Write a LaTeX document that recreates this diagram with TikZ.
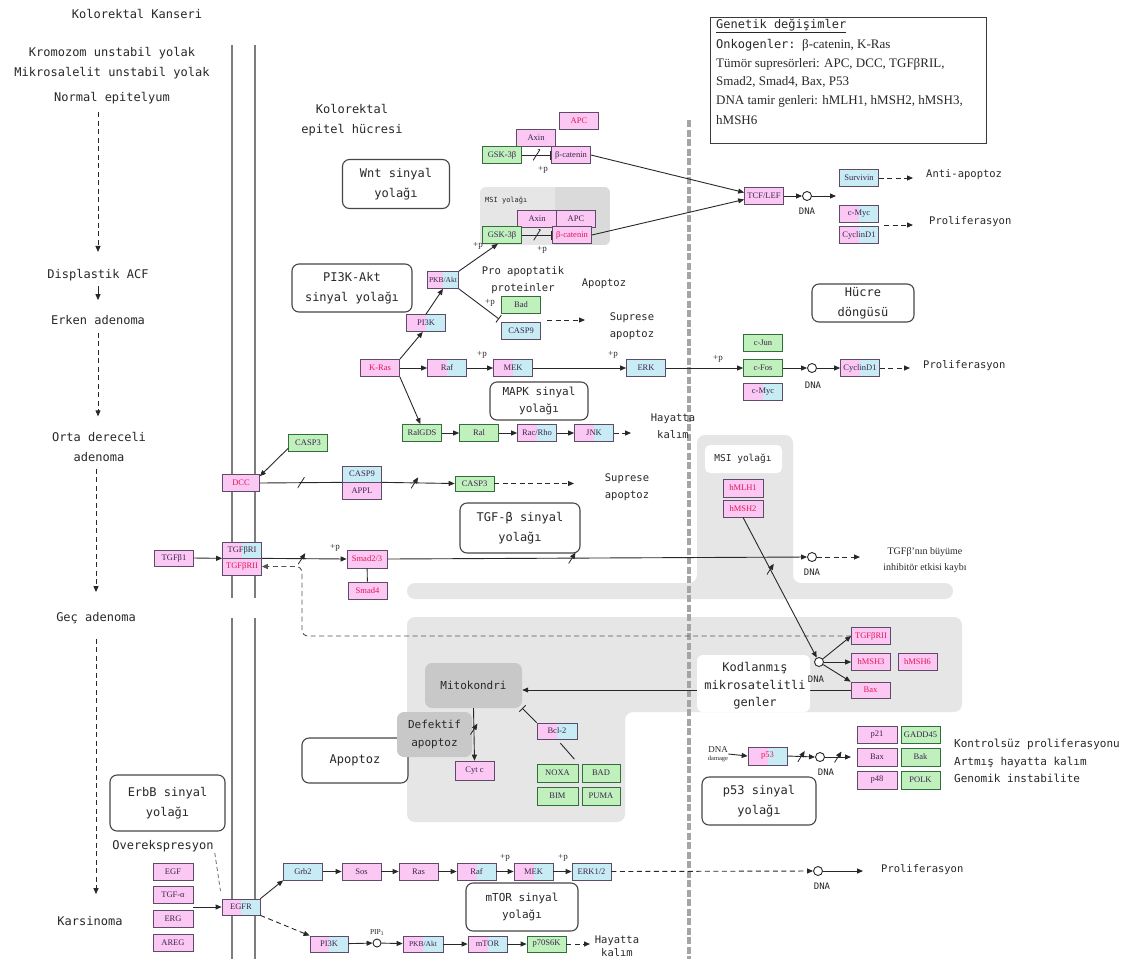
\documentclass[tikz,border=0pt]{standalone}
\usepackage{fontspec}
\setmainfont{Liberation Serif}
\newfontfamily\monolab{DejaVu Sans Mono}
\usetikzlibrary{arrows.meta}

\definecolor{edgec}{RGB}{40,40,40}
\definecolor{pathline}{RGB}{70,70,70}
\definecolor{labtext}{RGB}{40,40,40}
\definecolor{genetext}{RGB}{60,35,80}
\definecolor{mutred}{RGB}{230,20,90}
\definecolor{pinkc}{RGB}{250,200,242}
\definecolor{bluec}{RGB}{200,236,244}
\definecolor{greenc}{RGB}{192,240,188}
\definecolor{geneline}{RGB}{95,75,105}
\definecolor{greenline}{RGB}{50,110,60}
\definecolor{regc}{RGB}{230,230,230}
\definecolor{regd}{RGB}{218,218,218}
\definecolor{mitoc}{RGB}{200,200,200}
\definecolor{membc}{RGB}{125,125,125}
\definecolor{vdashc}{RGB}{165,165,165}
\definecolor{boxc}{RGB}{60,60,60}

\newcommand{\labbig}{\monolab\fontsize{12}{19.5}\selectfont}
\newcommand{\labmid}{\monolab\fontsize{11}{17.5}\selectfont}
\newcommand{\labsmall}{\monolab\fontsize{10.5}{17}\selectfont}
\newcommand{\labtiny}{\monolab\fontsize{9}{11}\selectfont}
\newcommand{\genefont}{\rmfamily\fontsize{8.5}{10}\selectfont}
\newcommand{\plusfont}{\rmfamily\fontsize{9}{10}\selectfont}
\newcommand{\legfont}{\rmfamily\fontsize{13}{15}\selectfont}

\tikzset{
  gene/.style={draw=geneline, line width=0.7pt, minimum width=39pt, minimum height=17pt, inner sep=0pt, font=\genefont, text=genetext},
  pk/.style={gene, fill=pinkc},
  bl/.style={gene, fill=bluec},
  gr/.style={gene, fill=greenc, draw=greenline},
  pb/.style={gene, fill=pinkc, path picture={\fill[bluec] ([yshift=-0.4pt]path picture bounding box.north) rectangle ([xshift=-0.4pt,yshift=0.4pt]path picture bounding box.south east);}},
  mut/.style={text=mutred},
  sq/.style={font=\rmfamily\fontsize{7.5}{9}\selectfont},
  pway/.style={draw=pathline, line width=1.1pt, rounded corners=7pt, fill=white, font=\labbig, text=labtext, align=center, inner sep=0pt},
  lab/.style={font=\labbig, text=labtext, align=center, inner sep=1pt},
  labm/.style={font=\labmid, text=labtext, align=center, inner sep=1pt},
  labs/.style={font=\labsmall, text=labtext, align=center, inner sep=1pt},
  dnal/.style={font=\labtiny, text=labtext, inner sep=0pt},
  plab/.style={font=\plusfont, text=labtext, inner sep=0pt},
  arr/.style={draw=edgec, line width=0.9pt, -{Triangle[length=6pt,width=5pt]}},
  darr/.style={arr, dash pattern=on 5pt off 3.5pt},
  inh/.style={draw=edgec, line width=0.9pt, -{Bar[width=9pt,line width=0.9pt]}},
  ln/.style={draw=edgec, line width=0.9pt},
  dnac/.style={circle, draw=edgec, fill=white, line width=0.9pt, minimum size=9pt, inner sep=0pt},
  slash/.style={inner sep=0pt, minimum width=7pt, minimum height=11pt, path picture={\draw[edgec, line width=0.8pt] (path picture bounding box.south west) -- (path picture bounding box.north east);}},
  memb/.style={draw=membc, line width=2.8pt},
  vdash/.style={draw=vdashc, line width=3.5pt, dash pattern=on 7pt off 2.5pt},
  organelle/.style={rounded corners=7pt, fill=mitoc, font=\labmid, text=labtext, align=center, inner sep=0pt},
}

\begin{document}
\begin{tikzpicture}[x=1pt,y=-1pt]
\useasboundingbox (0,0) rectangle (1145,959);
\fill[white] (0,0) rectangle (1145,959);

% ---------- shaded compartments ----------
\begin{scope}
  \clip[rounded corners=6pt] (480,187) rectangle (610,245);
  \fill[regc] (480,187) rectangle (610,245);
  \fill[regd] (555,187) rectangle (610,245);
\end{scope}
\fill[regc, rounded corners=8pt] (697,435) -- (793,435) -- (793,583) -- (953,583) -- (953,599) -- (407,599) -- (407,583) -- (697,583) -- cycle;
\fill[regc, rounded corners=8pt] (407,617) -- (962,617) -- (962,712) -- (625,712) -- (625,822) -- (407,822) -- cycle;
\fill[white, rounded corners=5pt] (705,445) rectangle (782,473);

% ---------- cell membrane and boundary ----------
\draw[memb] (232,45) -- (232,598);
\draw[memb] (255,45) -- (255,598);
\draw[memb] (232,618) -- (232,959);
\draw[memb] (255,618) -- (255,959);
\draw[vdash] (689,120) -- (689,959);

% ---------- progression column ----------
\node[lab] (kk) at (137,14) {Kolorektal Kanseri};
\node[lab] (kuy) at (112,53) {Kromozom unstabil yolak};
\node[lab] (muy) at (112,73) {Mikrosalelit unstabil yolak};
\node[lab] (ne) at (112,98) {Normal epitelyum};
\node[lab] (dacf) at (98,275) {Displastik ACF};
\node[lab] (ea) at (98,320) {Erken adenoma};
\node[lab] (oda) at (99,447) {Orta dereceli\\adenoma};
\node[lab] (ga) at (96,618) {Geç adenoma};
\node[lab] (ks) at (90,921) {Karsinoma};
\draw[darr, shorten <=7pt, shorten >=16pt] (dacf.north |- ne.south) -- (dacf.north);
\draw[arr, shorten <=4pt, shorten >=14pt] (dacf.south) -- (dacf.south |- ea.north);
\draw[darr, shorten <=7pt, shorten >=15pt] (ea.south) -- (ea.south |- oda.north);
\draw[darr, shorten <=6pt, shorten >=19pt] (oda.south -| ga.north) -- (ga.north);
\draw[darr, shorten <=14pt, shorten >=21pt] (ga.south) -- (ga.south |- ks.north);

\node[lab] (epi) at (352,120) {Kolorektal\\epitel hücresi};

% ---------- legend box ----------
\node[draw=boxc, line width=1pt, minimum width=276pt, minimum height=126pt, anchor=north west, inner sep=0pt] (gbox) at (710,17) {};
\node[anchor=west, inner sep=0pt, font=\monolab\fontsize{12}{14}\selectfont, text=labtext] (g1) at (716,26) {\underline{Genetik değişimler}};
\node[anchor=west, inner sep=0pt, font=\legfont, text=labtext] (g2) at (716,45) {{\monolab\fontsize{12}{14}\selectfont Onkogenler:}\ \ β-catenin, K-Ras};
\node[anchor=west, inner sep=0pt, font=\legfont, text=labtext] (g3) at (716,64) {Tümör supresörleri: APC, DCC, TGFβRIL,};
\node[anchor=west, inner sep=0pt, font=\legfont, text=labtext] (g4) at (716,82) {Smad2, Smad4, Bax, P53};
\node[anchor=west, inner sep=0pt, font=\legfont, text=labtext] (g5) at (716,101) {DNA tamir genleri: hMLH1, hMSH2, hMSH3,};
\node[anchor=west, inner sep=0pt, font=\legfont, text=labtext] (g6) at (716,120) {hMSH6};

% ---------- pathway boxes ----------
\node[pway, minimum width=107pt, minimum height=49pt] (wntbox) at (396,184) {Wnt sinyal\\yolağı};
\node[pway, minimum width=120pt, minimum height=48pt] (pi3kbox) at (352,288) {PI3K-Akt\\sinyal yolağı};
\node[pway, minimum width=98pt, minimum height=38pt, font=\labmid] (mapkbox) at (539,401) {MAPK sinyal\\yolağı};
\node[pway, minimum width=102pt, minimum height=38pt] (cycbox) at (863,303) {Hücre\\döngüsü};
\node[pway, minimum width=120pt, minimum height=50pt] (tgfbox) at (520,528) {TGF-β sinyal\\yolağı};
\node[pway, minimum width=106pt, minimum height=45pt] (apobox) at (355,760.5) {Apoptoz};
\node[pway, minimum width=114pt, minimum height=48pt] (p53box) at (759,801) {p53 sinyal\\yolağı};
\node[pway, minimum width=115pt, minimum height=56pt] (erbbbox) at (167.5,803) {ErbB sinyal\\yolağı};
\node[pway, minimum width=112pt, minimum height=48pt, font=\labmid] (mtorbox) at (522,907) {mTOR sinyal\\yolağı};

% ---------- Wnt ----------
\node[font=\monolab\fontsize{7}{8}\selectfont, text=labtext, anchor=west, inner sep=0pt] (msiA) at (485,200) {MSI yolağı};
\node[pk,mut] (apcA) at (579,121) {APC};
\node[pk] (axinA) at (536,138) {Axin};
\node[gr] (gskA) at (502,155) {GSK-3β};
\node[pk] (bcatA) at (571,155) {β-catenin};
\node[pk] (axinB) at (537,219) {Axin};
\node[pk] (apcB) at (576,219) {APC};
\node[gr] (gskB) at (502,235) {GSK-3β};
\node[pk,mut] (bcatB) at (572,235) {β-catenin};
\node[pk] (tcf) at (764,196) {TCF/LEF};
\node[dnac] (dnaA) at (807,196) {};
\node[dnal] (dnaAl) at (807,211) {DNA};
\node[bl] (surv) at (859,178) {Survivin};
\node[pb] (cmycA) at (859,214) {c-Myc};
\node[pb] (ccndA) at (859,235) {CyclinD1};
\node[labs, anchor=west] (antiap) at (925,175) {Anti-apoptoz};
\node[labs, anchor=west] (prolA) at (928,222) {Proliferasyon};
\coordinate (wntT) at (836,196);
\coordinate (wntG) at (884,225);

\draw[inh] (gskA.east) -- node[slash]{} (bcatA.west);
\node[plab] (pA) at (543,170) {+p};
\draw[inh] (gskB.east) -- node[slash]{} (bcatB.west);
\node[plab] (pB) at (542,250) {+p};
\draw[arr] (bcatA.east) -- (tcf.170);
\draw[arr] (bcatB.east) -- (tcf.190);
\draw[arr] (tcf) -- (dnaA);
\draw[arr] (dnaA) -- (wntT);
\draw[darr, shorten >=12pt] (surv.east) -- (surv.east -| antiap.west);
\draw[darr, shorten >=15pt] (wntG) -- (wntG -| prolA.west);

% ---------- PI3K-Akt ----------
\node[pb,sq, minimum width=31pt] (pkbA) at (443,280) {PKB/Akt};
\node[pb] (pi3kA) at (426,323) {PI3K};
\node[gr] (bad) at (521,305) {Bad};
\node[bl] (casp9A) at (521,331) {CASP9};
\node[labs] (proap) at (523,280) {Pro apoptatik\\proteinler};
\node[labs] (apA) at (604,284) {Apoptoz};
\node[labs] (supA) at (632,326) {Suprese\\apoptoz};
\coordinate (badinh) at (499,319);
\coordinate (apgrp) at (547,320);
\coordinate (apT) at (585,320);

% ---------- MAPK ----------
\node[pk,mut] (kras) at (380,368) {K-Ras};
\node[pb] (rafA) at (447,368) {Raf};
\node[pb] (mekA) at (513,368) {MEK};
\node[bl] (erkA) at (646,368) {ERK};
\node[gr] (cjun) at (763,343) {c-Jun};
\node[gr] (cfos) at (763,368) {c-Fos};
\node[pb] (cmycB) at (763,392) {c-Myc};
\node[dnac] (dnaB) at (812,368) {};
\node[dnal] (dnaBl) at (813,385) {DNA};
\node[pb] (ccndB) at (860,368) {CyclinD1};
\node[labs, anchor=west] (prolB) at (922,366) {Proliferasyon};
\node[gr] (ralgds) at (422,433) {RalGDS};
\node[gr] (ral) at (479,433) {Ral};
\node[pb] (racrho) at (537,433) {Rac/Rho};
\node[pb] (jnk) at (594,433) {JNK};
\node[labs] (hayA) at (673,426) {Hayatta\\kalım};
\coordinate (jnkT) at (631,433);

\draw[arr] (kras.north east) -- (pi3kA.-110);
\draw[arr] (pi3kA.north) -- (pkbA.south);
\draw[arr] (pkbA.north east) -- (gskB.-115);
\node[plab] (pC) at (478,246) {+p};
\draw[inh] (pkbA.south east) -- (badinh);
\node[plab] (pD) at (490,303) {+p};
\draw[darr] (apgrp) -- (apT);

\draw[arr] (kras) -- (rafA);
\draw[arr] (rafA) -- (mekA);
\node[plab] (pE) at (482,355) {+p};
\draw[arr] (mekA) -- (erkA);
\node[plab] (pF) at (613,355) {+p};
\draw[arr] (erkA) -- (cfos);
\node[plab] (pG) at (718,359) {+p};
\draw[arr] (cfos) -- (dnaB);
\draw[arr] (dnaB) -- (ccndB);
\draw[darr, shorten >=12pt] (ccndB.east) -- (ccndB.east -| prolB.west);
\draw[arr] (kras.south east) -- (ralgds.100);
\draw[arr] (ralgds) -- (ral);
\draw[arr] (ral) -- (racrho);
\draw[arr] (racrho) -- (jnk);
\draw[darr] (jnk.east) -- (jnkT);

% ---------- DCC ----------
\node[gr] (casp3A) at (308,443) {CASP3};
\node[pk,mut, minimum width=37pt] (dcc) at (241,483) {DCC};
\node[bl, minimum height=16pt] (casp9B) at (362,474) {CASP9};
\node[pk] (appl) at (362,490.5) {APPL};
\node[gr, minimum height=15pt] (casp3B) at (474.5,483.5) {CASP3};
\node[labs] (supB) at (627,487) {Suprese\\apoptoz};
\coordinate (casp3T) at (574,483.5);
\draw[arr] (casp3A.195) -- (dcc.20);
\draw[ln] (dcc.east) -- node[slash]{} (casp9B.south west);
\draw[arr] (casp9B.south east) -- node[slash, pos=0.45]{} (casp3B.west);
\draw[darr] (casp3B.east) -- (casp3T);

% ---------- TGF-beta ----------
\node[pk, minimum height=16pt] (tgfb1) at (174,558) {TGFβ1};
\node[pb, minimum height=16pt] (tgfbr1) at (242,550) {TGFβRI};
\node[pk,mut] (tgfbr2A) at (242,566.5) {TGFβRII};
\node[pk,mut, minimum width=40pt, minimum height=18pt] (smad23) at (367,559) {Smad2/3};
\node[pk,mut] (smad4) at (367.5,590.5) {Smad4};
\node[dnac] (dnaC) at (812,557) {};
\node[dnal] (dnaCl) at (812,572) {DNA};
\node[font=\rmfamily\fontsize{10}{16}\selectfont, text=labtext, align=center, inner sep=0pt] (tgfloss) at (925,560) {TGFβ'nın büyüme\\inhibitör etkisi kaybı};
\coordinate (tgfT) at (860,557);
\coordinate (retX) at (302,600);

\draw[arr] (tgfb1.east) -- (tgfbr1.south west);
\draw[arr] (tgfbr1.south east) -- node[slash, pos=0.47]{} (smad23.west);
\node[plab] (pH) at (335,548) {+p};
\draw[ln] (smad23) -- (smad4);
\draw[arr] (smad23.east) -- node[slash, pos=0.44]{} (dnaC.west);
\draw[darr] (dnaC) -- (tgfT);

% ---------- MSI ----------
\node[font=\monolab\fontsize{9.5}{11}\selectfont, text=labtext, inner sep=0pt] (msiB) at (743,459) {MSI yolağı};
\node[pk,mut, minimum width=40pt, minimum height=18pt] (hmlh1) at (743,488) {hMLH1};
\node[pk,mut, minimum width=40pt] (hmsh2) at (743,508.5) {hMSH2};
\node[dnac] (dnaD) at (819,662) {};
\node[pk,mut] (tgfbr2B) at (871,636) {TGFβRII};
\node[pk,mut] (hmsh3) at (871,662) {hMSH3};
\node[pk,mut] (hmsh6) at (917.5,662) {hMSH6};
\node[pk,mut, minimum height=16pt] (bax1) at (870.5,690) {Bax};

\draw[darr, draw=edgec!80, rounded corners=6pt] (tgfbr2B.west) -- (tgfbr2B.west -| retX) -- (retX |- tgfbr2A.east) -- (tgfbr2A.east);
\draw[arr] (hmsh2.south) -- node[slash, pos=0.37]{} (dnaD);
\draw[arr] (dnaD) -- (tgfbr2B.west);
\draw[arr] (dnaD) -- (hmsh3.west);
\draw[arr] (dnaD) -- (bax1.north west);

% ---------- apoptosis ----------
\node[organelle, minimum width=97pt, minimum height=45pt] (mito) at (473.5,685.5) {Mitokondri};
\node[organelle, minimum width=75pt, minimum height=45pt] (defek) at (434.5,734.5) {Defektif\\apoptoz};
\node[pk, minimum height=19pt] (cytc) at (474.5,770.5) {Cyt c};
\node[pb, minimum width=40pt, minimum height=16pt] (bcl2) at (557,731) {Bcl-2};
\node[gr, minimum width=41pt, minimum height=18pt] (noxa) at (557.5,773) {NOXA};
\node[gr, minimum width=38pt, minimum height=18pt] (bad2) at (601,773) {BAD};
\node[gr, minimum width=41pt, minimum height=18pt] (bim) at (557.5,796) {BIM};
\node[gr, minimum width=38pt, minimum height=18pt] (puma) at (601,796) {PUMA};

\draw[arr] (bax1.west) -- (mito.east |- bax1.west);
\draw[arr] (mito.south) -- node[slash, pos=0.4]{} (cytc.north);
\draw[inh] (bcl2.north west) -- (mito.south east);
\draw[ln, shorten <=6pt, shorten >=5pt] (noxa.north east) -- (bcl2.south);

\fill[white, rounded corners=6pt] (697,655) rectangle (810,712);
\node[font=\monolab\fontsize{12}{17.5}\selectfont, text=labtext, align=center, inner sep=0pt] (kodl) at (755,686) {Kodlanmış\\mikrosatelitli\\genler};
\node[dnal] (dnaDl) at (816,679) {DNA};

% ---------- p53 ----------
\node[align=center, inner sep=0pt, text=labtext, font=\rmfamily\fontsize{9}{8}\selectfont] (dnadmg) at (718,754) {DNA\\{\fontsize{6.5}{7}\selectfont damage}};
\node[pb,mut, minimum height=18pt] (p53) at (767.5,756) {p53};
\node[dnac] (dnaE) at (820,757) {};
\node[dnal] (dnaEl) at (826,772) {DNA};
\coordinate (p53T) at (851,757);
\node[pk, minimum width=40pt] (p21) at (877,734.5) {p21};
\node[gr] (gadd) at (920.5,734.5) {GADD45};
\node[pk, minimum width=40pt, minimum height=18pt] (bax2) at (877,757) {Bax};
\node[gr, minimum height=18pt] (bak) at (920.5,757) {Bak};
\node[pk, minimum width=40pt, minimum height=18pt] (p48) at (877,780) {p48};
\node[gr, minimum height=18pt] (polk) at (920.5,780) {POLK};
\node[font=\monolab\fontsize{11}{17.5}\selectfont, text=labtext, align=left, anchor=west, inner sep=0pt] (p53out) at (954,761) {Kontrolsüz proliferasyonu\\Artmış hayatta kalım\\Genomik instabilite};

\draw[arr] (dnadmg.east) -- (p53.west);
\draw[arr] (p53.east) -- node[slash]{} (dnaE.west);
\draw[arr] (dnaE.east) -- node[slash]{} (p53T);

% ---------- ErbB / mTOR ----------
\node[lab] (overexp) at (163,846) {Overekspresyon};
\node[pk, minimum width=40pt] (egf) at (173,871.5) {EGF};
\node[pk, minimum width=40pt] (tgfa) at (173,895) {TGF-α};
\node[pk, minimum width=40pt] (ereg) at (173,919) {ERG};
\node[pk, minimum width=40pt] (areg) at (173,942.5) {AREG};
\node[pb, minimum width=38pt, minimum height=16pt] (egfr) at (241,907) {EGFR};
\node[bl] (grb2) at (303,871.5) {Grb2};
\node[pk] (sos) at (361.5,871.5) {Sos};
\node[pk] (ras) at (418.5,871.5) {Ras};
\node[pb] (rafB) at (476.5,871.5) {Raf};
\node[pb] (mekB) at (533.5,871.5) {MEK};
\node[bl] (erkB) at (591.5,871.5) {ERK1/2};
\node[dnac] (dnaF) at (818,871) {};
\node[dnal] (dnaFl) at (822,886) {DNA};
\node[labs, anchor=west] (prolC) at (880,870) {Proliferasyon};
\node[pb, minimum width=38pt, minimum height=16pt] (pi3kB) at (329,944) {PI3K};
\node[dnac, minimum size=8pt] (pip3) at (377,943) {};
\node[plab, font=\rmfamily\fontsize{7.5}{8}\selectfont] (pip3l) at (377,933) {PIP\textsubscript{3}};
\node[pb,sq, minimum width=40pt, minimum height=16pt] (pkbB) at (423,944) {PKB/Akt};
\node[pb, minimum height=16pt] (mtor) at (487.5,944) {mTOR};
\node[gr, minimum height=16pt] (p70) at (546.5,944) {p70S6K};
\node[font=\monolab\fontsize{10.5}{13.5}\selectfont, text=labtext, align=center, inner sep=0pt] (hayB) at (617,946) {Hayatta\\kalım};
\coordinate (p70T) at (590,944);

\draw[draw=edgec!70, line width=0.8pt, dash pattern=on 4pt off 3pt, shorten >=8pt] (overexp.south east) -- (egfr.north west);
\draw[arr] (egfr.west -| tgfa.east) -- (egfr.west);
\draw[arr] (egfr.north east) -- (grb2.south west);
\draw[arr] (grb2) -- (sos);
\draw[arr] (sos) -- (ras);
\draw[arr] (ras) -- (rafB);
\draw[arr] (rafB) -- (mekB);
\node[plab] (pI) at (505,858) {+p};
\draw[arr] (mekB) -- (erkB);
\node[plab] (pJ) at (563,858) {+p};
\draw[darr] (erkB.east) -- (dnaF.west);
\draw[arr, shorten >=17pt] (dnaF.east) -- (dnaF.east -| prolC.west);
\draw[darr] (egfr.south east) -- (pi3kB.north west);
\draw[arr] (pi3kB) -- (pip3);
\draw[arr] (pip3) -- (pkbB);
\draw[arr] (pkbB) -- (mtor);
\draw[arr] (mtor) -- (p70);
\draw[darr] (p70.east) -- (p70T);

\end{tikzpicture}
\end{document}
